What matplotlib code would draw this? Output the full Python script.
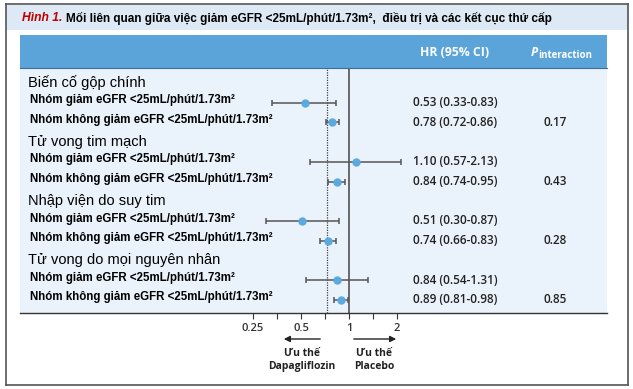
import numpy as np
import matplotlib
matplotlib.use('Agg')
import matplotlib.pyplot as plt
from matplotlib.patches import Rectangle
from matplotlib.lines import Line2D
import matplotlib.transforms as mtransforms

matplotlib.rcParams['font.family'] = ['Liberation Sans', 'DejaVu Sans']

# data
groups = ['Biến cố gộp chính', 'Tử vong tim mạch', 'Nhập viện do suy tim', 'Tử vong do mọi nguyên nhân']
row_labels = ['Nhóm giảm eGFR <25mL/phút/1.73m²', 'Nhóm không giảm eGFR <25mL/phút/1.73m²']
hr = [0.53, 0.78, 1.10, 0.84, 0.51, 0.74, 0.84, 0.89]
lo = [0.33, 0.72, 0.57, 0.74, 0.30, 0.66, 0.54, 0.81]
hi = [0.83, 0.86, 2.13, 0.95, 0.87, 0.83, 1.31, 0.98]
p_int = ['0.17', '0.43', '0.28', '0.85']
overall_hr = 0.73
xticks = [0.25, 0.5, 1, 2]
xtick_labels = ['0.25', '0.5', '1', '2']

num_font = ['Open Sans', 'DejaVu Sans']

W, H = 633, 389
fig = plt.figure(figsize=(W / 100, H / 100), dpi=100)

def fx(px):
    return px / W

def fy(py):
    return 1 - py / H

# outer frame and title bar
fig.patches.append(Rectangle((fx(6), fy(30)), fx(622), fy(5) - fy(30), transform=fig.transFigure,
                             facecolor='#dde9f5', edgecolor='none', zorder=0))
for (x0, y0, x1, y1) in [(6, 4, 628, 4), (6, 4, 6, 385), (628, 4, 628, 385), (6, 385, 628, 385)]:
    fig.lines.append(Line2D([fx(x0), fx(x1)], [fy(y0), fy(y1)], transform=fig.transFigure,
                            color='#555555', lw=1.2))
fig.text(fx(22), fy(18), 'Hình 1.', color='#c00000', fontstyle='italic', fontweight='bold',
         fontsize=8.7, va='center')
fig.text(fx(66), fy(18), 'Mối liên quan giữa việc giảm eGFR <25mL/phút/1.73m²,  điều trị và các kết cục thứ cấp',
         color='black', fontweight='bold', fontsize=8.5, va='center')

# header bar
fig.patches.append(Rectangle((fx(20), fy(68)), fx(587), fy(35) - fy(68), transform=fig.transFigure,
                             facecolor='#5ba4d9', edgecolor='none', zorder=0))
fig.lines.append(Line2D([fx(20), fx(607)], [fy(68), fy(68)], transform=fig.transFigure,
                        color='#3d6f99', lw=0.8))
fig.text(fx(455), fy(53), 'HR (95% CI)', color='white', fontweight='bold', fontsize=8.8,
         ha='center', va='center', family=num_font)
fig.text(fx(531), fy(53), 'P', color='white', fontweight='bold', fontstyle='italic', fontsize=9,
         ha='left', va='center', family=num_font)
fig.text(fx(538), fy(56), 'interaction', color='white', fontweight='bold', fontsize=7,
         ha='left', va='center', family=num_font)

# main axes: panel
ax = fig.add_axes([fx(20), fy(313), fx(587), fy(68) - fy(313)])
ax.set_facecolor('#eaf2fb')
ax.set_xscale('log', base=2)
px_per_doubling = 48.0
x_one = 349.0
ax.set_xlim(2 ** ((20 - x_one) / px_per_doubling), 2 ** ((607 - x_one) / px_per_doubling))
slot = 19.7
y0 = 83.0
ax.set_ylim((313 - y0) / slot, (68 - y0) / slot)

for s in ['top', 'left', 'right']:
    ax.spines[s].set_visible(False)
ax.spines['bottom'].set_color('#333333')
ax.spines['bottom'].set_linewidth(1.0)
ax.set_yticks([])

major = np.array(xticks, dtype=float)
minor = major * np.sqrt(2)
ax.set_xticks(list(major) + list(minor[:-1]))
ax.set_xticklabels(xtick_labels + [''] * (len(minor) - 1))
ax.xaxis.set_minor_locator(matplotlib.ticker.NullLocator())
ax.tick_params(axis='x', direction='out', length=4, width=0.8, color='#333333',
               labelsize=8, labelcolor='#333333', pad=3)
for t in ax.get_xticklabels():
    t.set_fontweight('semibold')
    t.set_family(num_font)

ax.axvline(1, color='#444444', lw=1.1, zorder=1)
ax.axvline(overall_hr, color='#444444', lw=0.9, ls=(0, (1, 1)), zorder=1)

tr = mtransforms.blended_transform_factory(fig.transFigure, ax.transData)
hr_txt = ['%.2f (%.2f-%.2f)' % (h, l, u) for h, l, u in zip(hr, lo, hi)]
for g, name in enumerate(groups):
    yh = g * 3
    ax.text(fx(28), yh, name, transform=tr, fontsize=10.5, va='center', ha='left', color='black')
    for j in range(2):
        i = g * 2 + j
        y = yh + 1 + j
        ax.text(fx(30), y - 0.12, row_labels[j], transform=tr, fontsize=8.3, fontweight='bold',
                va='center', ha='left', color='black')
        ax.errorbar(hr[i], y, xerr=[[hr[i] - lo[i]], [hi[i] - hr[i]]], fmt='o', color='#5aaae0',
                    ms=5, ecolor='#555555', elinewidth=1.1, capsize=2.5, capthick=1.1, zorder=3)
        ax.text(fx(455), y, hr_txt[i], transform=tr, fontsize=8.5, ha='center', va='center',
                color='#222222', fontweight='semibold', family=num_font)
    ax.text(fx(555), yh + 2, p_int[g], transform=tr, fontsize=8.5, ha='center', va='center',
            color='#222222', fontweight='semibold', family=num_font)

# favour arrows
ax.annotate('', xy=(fx(281), fy(339)), xytext=(fx(323), fy(339)), xycoords='figure fraction',
            arrowprops=dict(arrowstyle='-|>', color='#222222', lw=1.0, mutation_scale=9))
ax.annotate('', xy=(fx(399), fy(339)), xytext=(fx(351), fy(339)), xycoords='figure fraction',
            arrowprops=dict(arrowstyle='-|>', color='#222222', lw=1.0, mutation_scale=9))
fig.text(fx(302), fy(360), 'Ưu thế\nDapagliflozin', ha='center', va='center', fontsize=7.5,
         fontweight='bold', color='#222222', linespacing=1.35, family=num_font)
fig.text(fx(374), fy(360), 'Ưu thế\nPlacebo', ha='center', va='center', fontsize=7.5,
         fontweight='bold', color='#222222', linespacing=1.35, family=num_font)

fig.savefig('out.png', dpi=100, facecolor='white')
